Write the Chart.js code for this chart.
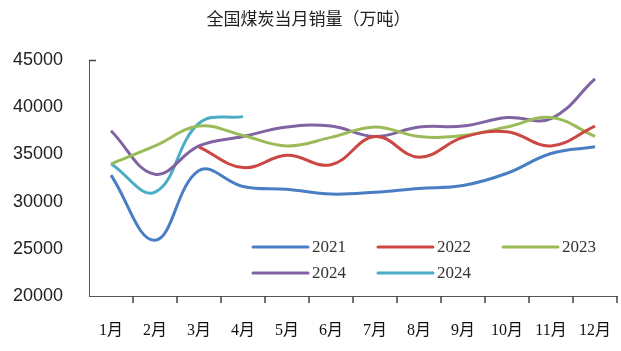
<!DOCTYPE html>
<html>
<head>
<meta charset="utf-8">
<script src="https://cdn.jsdelivr.net/npm/chart.js@4.4.1/dist/chart.umd.min.js"></script>
<style>
  html, body { margin: 0; padding: 0; background: #fff; }
  #wrap { width: 621px; height: 351px; }
</style>
</head>
<body>
<div id="wrap"><canvas id="salesChart" width="621" height="351"></canvas></div>
<script>
// 월 라벨
const months = ['1月', '2月', '3月', '4月', '5月', '6月', '7月', '8月', '9月', '10月', '11月', '12月'];

// 연도별 판매량 (万吨)
const sales2021 = [32800, 25900, 33300, 31600, 31300, 30800, 31000, 31400, 31700, 33000, 35100, 35800];
const sales2022 = [null, null, 35800, 33600, 34900, 33900, 36900, 34700, 36800, 37400, 35900, 38000];
const sales2023 = [34000, 35900, 38000, 37000, 35900, 36800, 37900, 36900, 37000, 37900, 38900, 36900];
const sales2024a = [37500, 32900, 35900, 36900, 37900, 38000, 36900, 37900, 38000, 38900, 38800, 43000];
const sales2024b = [34000, 31000, 38300, 39000];

const yearLabels = ['2021', '2022', '2023', '2024', '2024'];
const yearColors = ['#4A7EC4', '#CC4743', '#9BBB59', '#8064A2', '#4BACC6'];

const yMin = 20000;
const yMax = 45000;
const yStep = 5000;

const seriesList = [sales2021, sales2022, sales2023, sales2024a, sales2024b];

// 범례를 차트 안쪽에 직접 그리는 플러그인 + x축 눈금
const insideLegend = {
    id: 'insideLegend',
    afterDraw(chart) {
        const ctx = chart.ctx;
        const area = chart.chartArea;

        // x축 눈금 (카테고리 경계, 아래쪽)
        const step = (area.right - area.left) / months.length;
        ctx.save();
        ctx.strokeStyle = '#444';
        ctx.lineWidth = 1.5;
        ctx.beginPath();
        for (let i = 1; i <= months.length; i++) {
            const px = Math.round(area.left + step * i);
            ctx.moveTo(px, area.bottom);
            ctx.lineTo(px, area.bottom + 7);
        }
        ctx.stroke();
        // y축 맨 위 눈금
        ctx.beginPath();
        ctx.moveTo(area.left, area.top + 0.5);
        ctx.lineTo(area.left + 7, area.top + 0.5);
        ctx.stroke();
        ctx.restore();

        const slots = [
            { x: 253, y: 247 }, { x: 378, y: 247 }, { x: 503, y: 247 },
            { x: 253, y: 273 }, { x: 378, y: 273 }
        ];
        ctx.save();
        ctx.font = '17px "Liberation Serif", "DejaVu Serif", serif';
        ctx.textBaseline = 'middle';
        ctx.fillStyle = '#333';
        chart.data.datasets.forEach((ds, i) => {
            const s = slots[i];
            ctx.strokeStyle = ds.borderColor;
            ctx.lineWidth = 3;
            ctx.lineCap = 'round';
            ctx.beginPath();
            ctx.moveTo(s.x, s.y);
            ctx.lineTo(s.x + 55, s.y);
            ctx.stroke();
            ctx.fillText(ds.label, s.x + 59, s.y + 1);
        });
        ctx.restore();
    }
};

new Chart(document.getElementById('salesChart').getContext('2d'), {
    type: 'line',
    data: {
        labels: months,
        datasets: seriesList.map((data, i) => ({
            label: yearLabels[i],
            data: data,
            borderColor: yearColors[i],
            backgroundColor: yearColors[i],
            borderWidth: 3,
            pointRadius: 0,
            tension: 0.4,
            fill: false
        }))
    },
    options: {
        responsive: false,
        animation: false,
        layout: { padding: { left: 0, right: 4, top: 0, bottom: 0 } },
        plugins: {
            legend: { display: false },
            tooltip: { enabled: false },
            title: {
                display: true,
                text: '全国煤炭当月销量（万吨）',
                color: '#222',
                font: { family: '"Noto Sans CJK SC", sans-serif', size: 17, weight: 'normal', lineHeight: 1.2 },
                padding: { top: 8, bottom: 31.6 }
            }
        },
        scales: {
            x: {
                offset: true,
                grid: { display: false },
                border: { display: true, color: '#555', width: 1 },
                ticks: {
                    autoSkip: false,
                    maxRotation: 0,
                    padding: 17,
                    color: '#111',
                    font: { family: '"Liberation Serif", "Noto Sans CJK SC", serif', size: 16 }
                },
                afterFit(scale) {
                    scale.height = 55;
                    scale.paddingLeft = 0;
                    scale.paddingRight = 0;
                }
            },
            y: {
                min: yMin,
                max: yMax,
                grid: { display: false },
                border: { display: true, color: '#555', width: 1 },
                ticks: {
                    stepSize: yStep,
                    padding: 18,
                    color: '#222',
                    font: { family: '"Liberation Sans", Arial, sans-serif', size: 18 },
                    callback: (v) => String(v)
                },
                afterFit(scale) {
                    scale.width = 89;
                    scale.paddingTop = 0;
                    scale.paddingBottom = 0;
                }
            }
        }
    },
    plugins: [insideLegend]
});
</script>
</body>
</html>
